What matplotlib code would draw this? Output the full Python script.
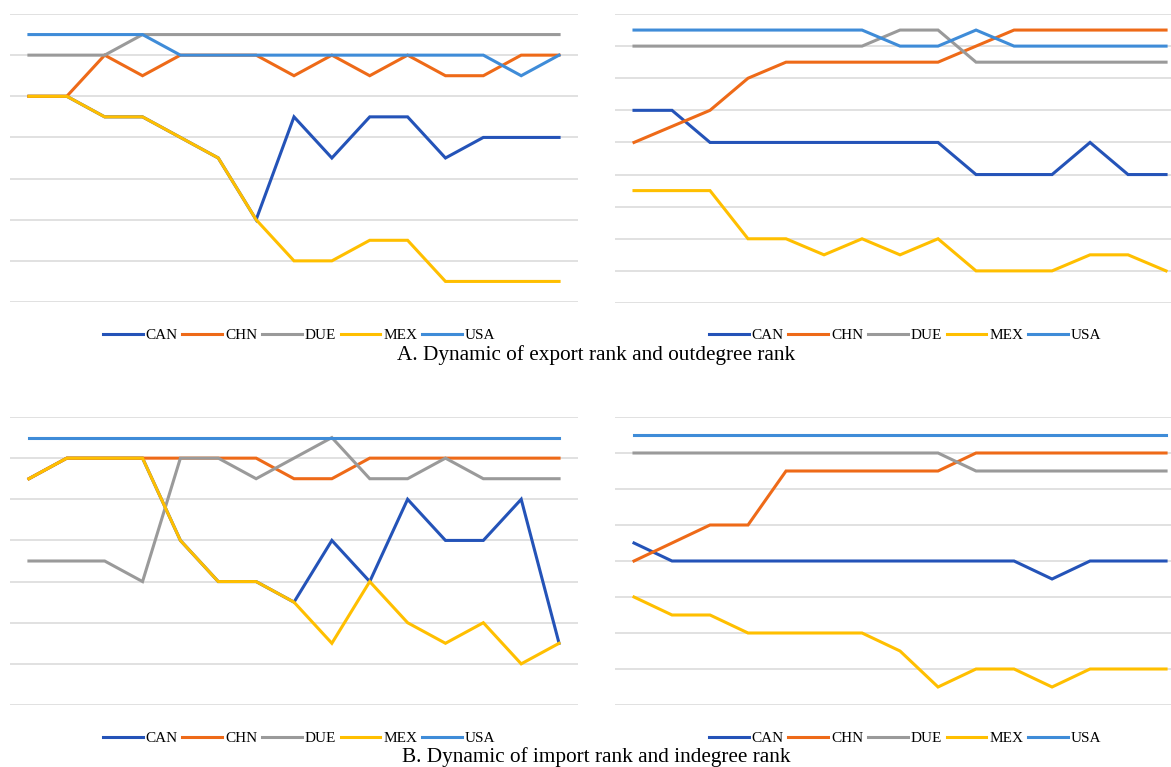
import numpy as np
import matplotlib
matplotlib.use("Agg")
from matplotlib import pyplot as plt

years = np.arange(15)
names = ["CAN", "CHN", "DUE", "MEX", "USA"]
colors = ["#2453B8", "#EE6A18", "#9A9A9A", "#FFBF00", "#3F8CD8"]

# A: export rank (left) and outdegree rank (right)
exp_can = [4, 4, 5, 5, 6, 7, 10, 5, 7, 5, 5, 7, 6, 6, 6]
exp_chn = [4, 4, 2, 3, 2, 2, 2, 3, 2, 3, 2, 3, 3, 2, 2]
exp_due = [2, 2, 2, 1, 1, 1, 1, 1, 1, 1, 1, 1, 1, 1, 1]
exp_mex = [4, 4, 5, 5, 6, 7, 10, 12, 12, 11, 11, 13, 13, 13, 13]
exp_usa = [1, 1, 1, 1, 2, 2, 2, 2, 2, 2, 2, 2, 2, 3, 2]

out_can = [6, 6, 8, 8, 8, 8, 8, 8, 8, 10, 10, 10, 8, 10, 10]
out_chn = [8, 7, 6, 4, 3, 3, 3, 3, 3, 2, 1, 1, 1, 1, 1]
out_due = [2, 2, 2, 2, 2, 2, 2, 1, 1, 3, 3, 3, 3, 3, 3]
out_mex = [11, 11, 11, 14, 14, 15, 14, 15, 14, 16, 16, 16, 15, 15, 16]
out_usa = [1, 1, 1, 1, 1, 1, 1, 2, 2, 1, 2, 2, 2, 2, 2]

# B: import rank (left) and indegree rank (right)
imp_can = [3, 2, 2, 2, 6, 8, 8, 9, 6, 8, 4, 6, 6, 4, 11]
imp_chn = [3, 2, 2, 2, 2, 2, 2, 3, 3, 2, 2, 2, 2, 2, 2]
imp_due = [7, 7, 7, 8, 2, 2, 3, 2, 1, 3, 3, 2, 3, 3, 3]
imp_mex = [3, 2, 2, 2, 6, 8, 8, 9, 11, 8, 10, 11, 10, 12, 11]
imp_usa = [1] * 15

in_can = [7, 8, 8, 8, 8, 8, 8, 8, 8, 8, 8, 9, 8, 8, 8]
in_chn = [8, 7, 6, 6, 3, 3, 3, 3, 3, 2, 2, 2, 2, 2, 2]
in_due = [2, 2, 2, 2, 2, 2, 2, 2, 2, 3, 3, 3, 3, 3, 3]
in_mex = [10, 11, 11, 12, 12, 12, 12, 13, 15, 14, 14, 15, 14, 14, 14]
in_usa = [1] * 15

W, H = 1171, 767
fig = plt.figure(figsize=(W / 100, H / 100), dpi=100)


def panel(left, top, right, bottom, series, ymax, xmax=14.5):
    ax = fig.add_axes([left / W, 1 - bottom / H, (right - left) / W, (bottom - top) / H])
    for vals, c, n in zip(series, colors, names):
        ax.plot(years, vals, color=c, lw=2.2, label=n, solid_joinstyle="miter")
    ax.set_xlim(-0.5, xmax)
    ax.set_ylim(ymax, 0)
    ax.set_yticks(np.arange(0, ymax + 1, 2))
    ax.grid(axis="y", color="#D9D9D9", lw=1.1)
    ax.set_axisbelow(True)
    ax.tick_params(left=False, bottom=False, labelleft=False, labelbottom=False)
    for s in ax.spines.values():
        s.set_visible(False)
    return ax


def legend(ax, y, cx):
    h, l = ax.get_legend_handles_labels()
    fig.legend(h, l, loc="center", bbox_to_anchor=(cx / W, 1 - y / H), ncol=5,
               frameon=False, handlelength=2.6, handletextpad=0.2, columnspacing=0.3,
               prop={"family": "Liberation Serif", "size": 11})


a1 = panel(10, 14, 578, 302, [exp_can, exp_chn, exp_due, exp_mex, exp_usa], 14)
a2 = panel(615, 14, 1171, 303, [out_can, out_chn, out_due, out_mex, out_usa], 18, 14.13)
b1 = panel(10, 417, 578, 705, [imp_can, imp_chn, imp_due, imp_mex, imp_usa], 14)
b2 = panel(615, 417, 1171, 705, [in_can, in_chn, in_due, in_mex, in_usa], 16, 14.13)

legend(a1, 335, 299)
legend(a2, 335, 905)
legend(b1, 738, 299)
legend(b2, 738, 905)

fig.text(596 / W, 1 - 355 / H, "A. Dynamic of export rank and outdegree rank",
         ha="center", va="center", family="Liberation Serif", size=15.3)
fig.text(596 / W, 1 - 757 / H, "B. Dynamic of import rank and indegree rank",
         ha="center", va="center", family="Liberation Serif", size=15.3)

fig.savefig("out.png", dpi=100)
